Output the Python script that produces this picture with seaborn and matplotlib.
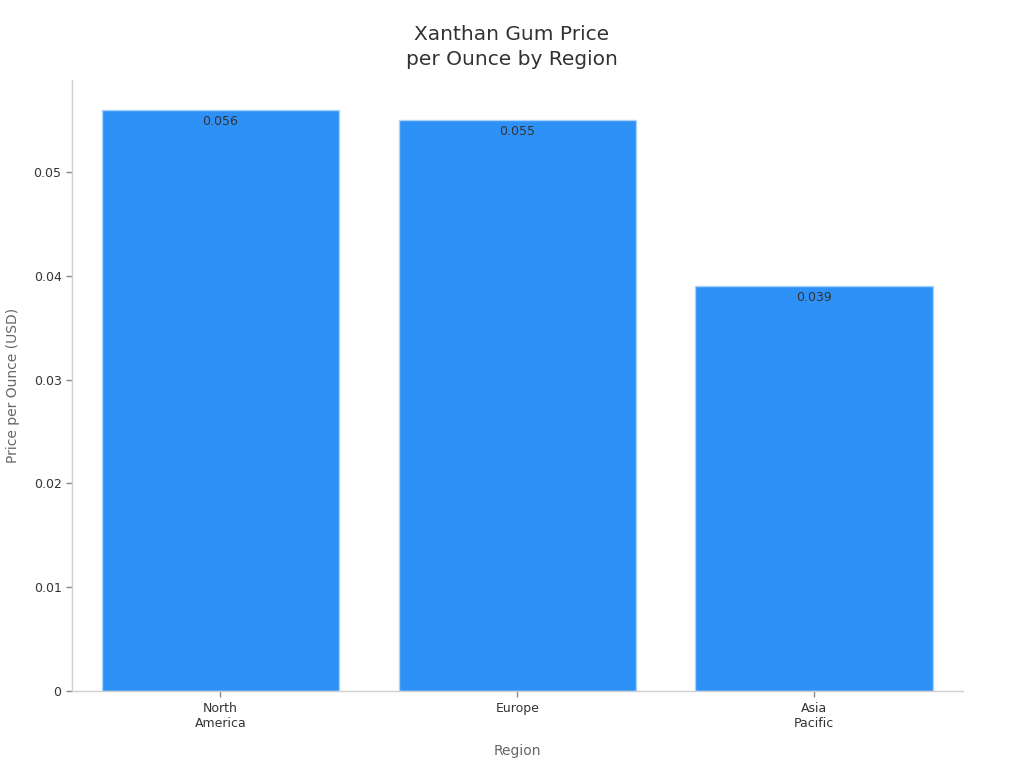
import matplotlib
matplotlib.use("Agg")
import matplotlib.pyplot as plt
import seaborn as sns
import pandas as pd

# data
regions = ["North\nAmerica", "Europe", "Asia\nPacific"]
prices = [0.056, 0.055, 0.039]
value_labels = ["0.056", "0.055", "0.039"]

BAR_COLOR = "#2E91F8"

sns.set_theme(style="white")
plt.rcParams['font.family'] = ['DejaVu Sans']

df = pd.DataFrame({"Region": regions, "Price": prices})

fig = plt.figure(figsize=(10.24, 7.68), dpi=100)
ax = fig.add_axes([0.0703, 0.1003, 0.8697, 0.7957])

sns.barplot(data=df, x="Region", y="Price", color=BAR_COLOR, saturation=1,
            width=0.8, edgecolor="#A9D3FB", linewidth=1, ax=ax)

for p, lab in zip(ax.patches, value_labels):
    ax.annotate(lab, (p.get_x() + p.get_width() / 2, p.get_height()),
                xytext=(0, -3.5), textcoords="offset points",
                ha="center", va="top", fontsize=9, color="#333333")

ax.set_xlim(-0.5, 2.5)
ax.set_ylim(0, 0.0589)
ax.set_yticks([0, 0.01, 0.02, 0.03, 0.04, 0.05])
ax.set_yticklabels(["0", "0.01", "0.02", "0.03", "0.04", "0.05"])

fig.suptitle("Xanthan Gum Price\nper Ounce by Region", x=0.5, y=0.968, va="top",
             fontsize=14.5, color="#333333", linespacing=1.45)
ax.set_xlabel("Region", fontsize=10, color="#666666", labelpad=10)
ax.set_ylabel("Price per Ounce (USD)", fontsize=10, color="#666666", labelpad=10)

for side in ["top", "right"]:
    ax.spines[side].set_visible(False)
for side in ["left", "bottom"]:
    ax.spines[side].set_color("#D0D0D0")
    ax.spines[side].set_linewidth(1)

ax.tick_params(axis="both", labelsize=9, colors="#333333", length=4, width=1, color="#888888",
               left=True, bottom=True)
ax.tick_params(axis="x", pad=4)

fig.savefig("out.png", dpi=100)
